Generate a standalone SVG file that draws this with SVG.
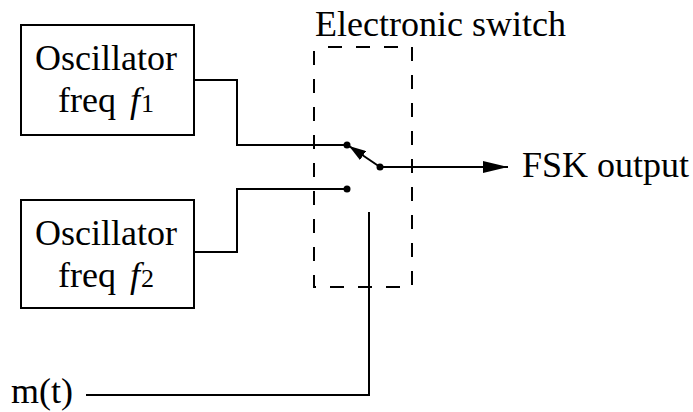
<svg xmlns="http://www.w3.org/2000/svg" width="693" height="412" viewBox="0 0 693 412">
<defs>
<style>
.t{font-family:"Liberation Serif","Times New Roman",serif;font-size:36px;fill:#000}
.box{fill:#fff;stroke:#000;stroke-width:2}
.w{fill:none;stroke:#000;stroke-width:2}
.sub{font-size:26px}
</style>
<marker id="ah" viewBox="0 0 25 12" refX="25" refY="6" markerWidth="25" markerHeight="12" markerUnits="userSpaceOnUse" orient="auto">
<path d="M0,0 L25,6 L0,12 Z" fill="#000"/>
</marker>
<marker id="ah2" viewBox="0 0 17 11" refX="17" refY="5.5" markerWidth="17" markerHeight="11" markerUnits="userSpaceOnUse" orient="auto">
<path d="M0,0 L17,5.5 L0,11 Z" fill="#000"/>
</marker>
</defs>
<rect width="693" height="412" fill="#fff"/>
<g id="osc1">
<rect class="box" x="21" y="25" width="173" height="110"/>
<text class="t" x="106" y="70" text-anchor="middle">Oscillator</text>
<text class="t" x="106" y="112" text-anchor="middle">freq <tspan font-style="italic" dx="5">f</tspan><tspan class="sub" dx="1">1</tspan></text>
</g>
<g id="osc2">
<rect class="box" x="21" y="200" width="173" height="108"/>
<text class="t" x="106" y="245" text-anchor="middle">Oscillator</text>
<text class="t" x="106" y="287" text-anchor="middle">freq <tspan font-style="italic" dx="5">f</tspan><tspan class="sub" dx="1">2</tspan></text>
</g>
<g id="switch">
<rect x="314" y="47" width="98" height="240" fill="none" stroke="#000" stroke-width="2" stroke-dasharray="14 14" stroke-dashoffset="-14"/>
<text class="t" x="315" y="36">Electronic switch</text>
<circle cx="347" cy="145" r="3.5"/>
<circle cx="347" cy="189" r="3.5"/>
<circle cx="380" cy="167" r="3.5"/>
</g>
<g id="labels">
<text class="t" x="522" y="177">FSK output</text>
<text class="t" x="11" y="403">m(t)</text>
</g>
<g id="connectors">
<polyline class="w" points="194,80 237,80 237,145 347,145"/>
<polyline class="w" points="194,252 237,252 237,189 347,189"/>
<line class="w" x1="380" y1="167" x2="349" y2="146" marker-end="url(#ah2)"/>
<line class="w" x1="380" y1="167" x2="508" y2="167" marker-end="url(#ah)"/>
<polyline class="w" points="86,395 369,395 369,212"/>
</g>
</svg>
